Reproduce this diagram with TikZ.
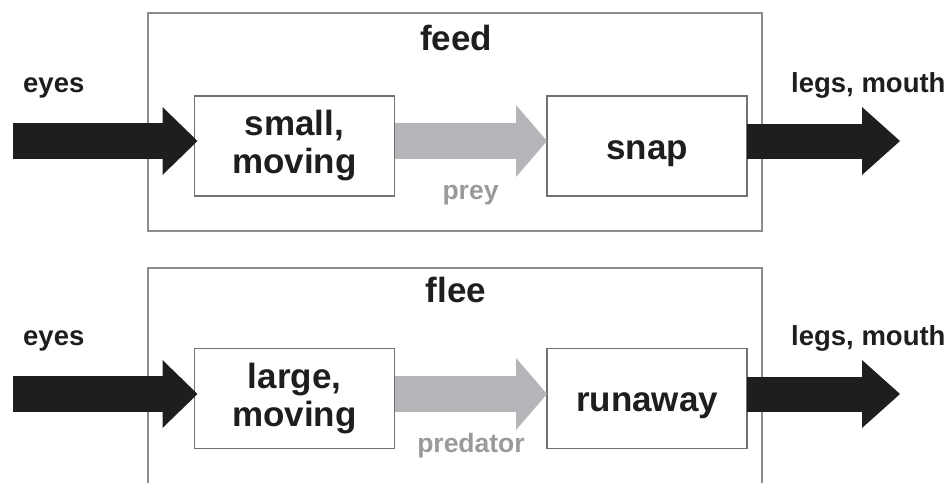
\documentclass[tikz,border=0pt]{standalone}
\usepackage{fontspec}
\setmainfont{Liberation Sans}
\usetikzlibrary{arrows.meta}

\definecolor{inkdark}{HTML}{1E1E1E}
\definecolor{framegray}{HTML}{8C8C8C}
\definecolor{boxgray}{HTML}{707070}
\definecolor{signalgray}{HTML}{B4B5B8}
\definecolor{labelgray}{HTML}{9A9A9A}

\begin{document}
\begin{tikzpicture}[x=1pt,y=-1pt,
  frame/.style={draw=framegray, line width=1.6pt},
  stagebox/.style={draw=boxgray, line width=1.2pt, fill=white,
    minimum width=200pt, minimum height=100pt, inner sep=0pt, outer sep=0pt,
    align=center, font=\bfseries\fontsize{35}{38}\selectfont, text=inkdark},
  bigtext/.style={font=\bfseries\fontsize{35}{38}\selectfont, text=inkdark,
    inner sep=0pt, anchor=base},
  sidetext/.style={font=\bfseries\fontsize{27.5}{30}\selectfont, text=inkdark,
    inner sep=0pt, anchor=base west},
  cuetext/.style={font=\bfseries\fontsize{26.5}{30}\selectfont, text=labelgray,
    inner sep=0pt, anchor=base},
  inarrow/.style={draw=inkdark, line width=36pt,
    -{Triangle[length=35pt, width=68pt, line width=0pt]}, shorten >=-3pt},
  cuearrow/.style={draw=signalgray, line width=36pt,
    -{Triangle[length=31pt, width=72pt, line width=0pt]}},
  outarrow/.style={draw=inkdark, line width=35pt,
    -{Triangle[length=38pt, width=68pt, line width=0pt]}}
]
\useasboundingbox (0,0) rectangle (947,482);
\clip (0,0) rectangle (947,482);

% ---------- feeding pathway ----------
\draw[frame] (148,13) rectangle (762,231);
\node[bigtext] (titleA) at (456,50) {feed};

\node[stagebox] (detA) at (294.5,146) {small,\\moving};
\node[stagebox] (actA) at (647,146) {};
\node[bigtext] (actAtext) at ([yshift=-13pt]actA.center) {snap};

\coordinate (srcA) at (13,141);
\coordinate (dstA) at (900,141);
\draw[inarrow]  (srcA) -- (srcA -| detA.west);
\draw[cuearrow] (srcA -| detA.east) -- (srcA -| actA.west);
\draw[outarrow] (srcA -| actA.east) -- (dstA);

\node[sidetext] (eyesA) at (23,92) {eyes};
\node[sidetext] (motorA) at (791,92) {legs, mouth};
\node[cuetext] (cueA) at (470.5,199) {prey};

% ---------- escape pathway ----------
\draw[frame] (148,268) rectangle (762,530);
\node[bigtext] (titleB) at (456,302) {flee};

\node[stagebox] (detB) at (294.5,398.5) {large,\\moving};
\node[stagebox] (actB) at (647,398.5) {};
\node[bigtext] (actBtext) at ([yshift=-13pt]actB.center) {runaway};

\coordinate (srcB) at (13,394);
\coordinate (dstB) at (900,394);
\draw[inarrow]  (srcB) -- (srcB -| detB.west);
\draw[cuearrow] (srcB -| detB.east) -- (srcB -| actB.west);
\draw[outarrow] (srcB -| actB.east) -- (dstB);

\node[sidetext] (eyesB) at (23,345) {eyes};
\node[sidetext] (motorB) at (791,345) {legs, mouth};
\node[cuetext] (cueB) at (471,452) {predator};
\end{tikzpicture}
\end{document}
